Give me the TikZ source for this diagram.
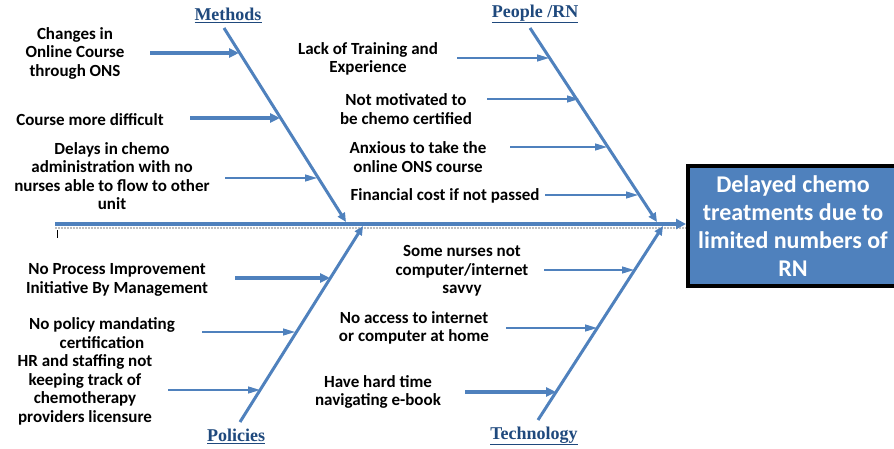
\documentclass[tikz,border=0pt]{standalone}
\usepackage{fontspec}
\setmainfont{Carlito}
\newfontfamily\headfont{Liberation Serif}
\usetikzlibrary{arrows.meta}
\definecolor{fishblue}{RGB}{79,129,189}
\definecolor{headblue}{RGB}{31,73,125}
\tikzset{
  cause/.style={align=center, inner sep=0pt, font=\bfseries\fontsize{17}{18.5}\selectfont},
  head/.style={inner sep=0pt, text=headblue, font=\headfont\bfseries\fontsize{18}{20}\selectfont},
  bone/.style={draw=fishblue, line width=3pt, -{Triangle[length=9pt,width=8pt]}},
  twig/.style={draw=fishblue, line width=1.3pt, -{Triangle[length=12pt,width=7pt]}},
  bigtwig/.style={draw=fishblue, line width=4pt, -{Triangle[length=10pt,width=9pt]}},
}
\begin{document}
\begin{tikzpicture}[x=1pt, y=-1pt]
\useasboundingbox (0,0) rectangle (894,449);

\node[draw=black, line width=4pt, fill=fishblue, minimum width=210pt, minimum height=120pt,
  align=center, text=white, font=\bfseries\fontsize{24}{28}\selectfont] (eff) at (793,226)
  {Delayed chemo\\treatments due to\\limited numbers of\\RN};

\coordinate (tail) at (55,224);
\draw[gray!50, line width=2pt, densely dotted] ([yshift=-4pt]tail) -- ([yshift=-4pt]tail -| eff.west);
\draw[draw=fishblue, line width=4pt, -{Triangle[length=10pt,width=10pt]}] (tail) -- (tail -| eff.west);
\coordinate (tick) at (57,230);
\draw[line width=0.8pt] (tick) -- ++(0,8);

% bones
\coordinate (mtop) at (224,28);  \coordinate (mend) at (346,222);
\coordinate (ptop) at (530,28);  \coordinate (pend) at (657,222);
\coordinate (ltop) at (240,422); \coordinate (lend) at (363,226);
\coordinate (ttop) at (538,420); \coordinate (tend) at (663,226);
\draw[bone] (mtop) -- (mend);
\draw[bone] (ptop) -- (pend);
\draw[bone] (ltop) -- (lend);
\draw[bone] (ttop) -- (tend);

\node[head] (meth) at (228,15) {\underline{Methods}};
\node[head] (peop) at (535,14) {\underline{People /RN}};
\node[head] (poli) at (236,436) {\underline{Policies}};
\node[head] (tech) at (534,436) {\underline{Technology}};

% methods
\node[cause] (m1) at (75,53) {Changes in\\Online Course\\through ONS};
\node[cause] (m2) at (90,120) {Course more difficult};
\node[cause] (m3) at (112,176) {Delays in chemo\\administration with no\\nurses able to flow to other\\unit};
\coordinate (m1a) at (150,53);  \coordinate (m1b) at (239,53);
\coordinate (m2a) at (190,118); \coordinate (m2b) at (280,118);
\coordinate (m3a) at (225,178); \coordinate (m3b) at (317,178);
\draw[bigtwig] (m1a) -- (m1b);
\draw[bigtwig] (m2a) -- (m2b);
\draw[twig] (m3a) -- (m3b);

% people
\node[cause] (p1) at (368,59) {Lack of Training and\\Experience};
\node[cause] (p2) at (406,109) {Not motivated to\\be chemo certified};
\node[cause] (p3) at (418,157) {Anxious to take the\\online ONS course};
\node[cause] (p4) at (445,196) {Financial cost if not passed};
\coordinate (p1a) at (457,58);  \coordinate (p1b) at (549,58);
\coordinate (p2a) at (487,99);  \coordinate (p2b) at (579,99);
\coordinate (p3a) at (510,147); \coordinate (p3b) at (607,147);
\coordinate (p4a) at (545,195); \coordinate (p4b) at (638,195);
\draw[twig] (p1a) -- (p1b);
\draw[twig] (p2a) -- (p2b);
\draw[twig] (p3a) -- (p3b);
\draw[twig] (p4a) -- (p4b);

% policies
\node[cause] (l1) at (117,280) {No Process Improvement\\Initiative By Management};
\node[cause] (l2) at (102,333) {No policy mandating\\certification};
\node[cause] (l3) at (85,390) {HR and staffing not\\keeping track of\\chemotherapy\\providers licensure};
\coordinate (l1a) at (235,278); \coordinate (l1b) at (330,278);
\coordinate (l2a) at (202,332); \coordinate (l2b) at (295,332);
\coordinate (l3a) at (168,390); \coordinate (l3b) at (260,390);
\draw[bigtwig] (l1a) -- (l1b);
\draw[twig] (l2a) -- (l2b);
\draw[twig] (l3a) -- (l3b);

% technology
\node[cause] (t1) at (462,271) {Some nurses not\\computer/internet\\savvy};
\node[cause] (t2) at (414,328) {No access to internet\\or computer at home};
\node[cause] (t3) at (378,392) {Have hard time\\navigating e-book};
\coordinate (t1a) at (544,270); \coordinate (t1b) at (634,270);
\coordinate (t2a) at (506,328); \coordinate (t2b) at (597,328);
\coordinate (t3a) at (465,392); \coordinate (t3b) at (556,392);
\draw[twig] (t1a) -- (t1b);
\draw[twig] (t2a) -- (t2b);
\draw[bigtwig] (t3a) -- (t3b);
\end{tikzpicture}
\end{document}
